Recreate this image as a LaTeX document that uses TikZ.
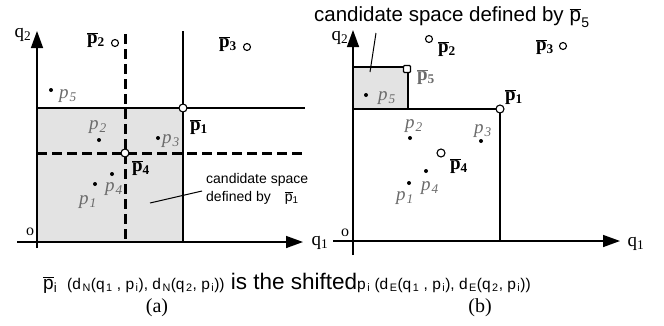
\documentclass[tikz,border=0pt]{standalone}
\usepackage{fontspec}
\setmainfont{Liberation Serif}
\setsansfont{Liberation Sans}
\usetikzlibrary{arrows.meta}
\definecolor{shadefill}{gray}{0.89}
\definecolor{lbl}{gray}{0.42}
\newcommand\pb[1]{\textbf{$\overline{\hbox{\textbf{p}}}$\textsubscript{#1}}}
\newcommand\pg[1]{\textcolor{lbl}{\textit{p}\kern1pt\textsubscript{\textit{#1}}}}
\newcommand\sbs[1]{\textsubscript{#1}}
\newcommand\ksb[1]{\kern1.5pt\textsubscript{#1}}
\begin{document}
\begin{tikzpicture}[x=1pt,y=-1pt,
  axisline/.style={line width=1.5pt,-{Triangle[length=17pt,width=12pt]}},
  edge/.style={line width=1.3pt},
  dashline/.style={line width=3pt,dash pattern=on 10pt off 5pt},
  hollow/.style={circle,draw,fill=white,line width=1.1pt,minimum size=8pt,inner sep=0pt},
  hollowsq/.style={rectangle,rounded corners=1pt,draw,fill=white,line width=1.1pt,minimum size=7pt,inner sep=0pt},
  dot/.style={circle,fill=black,minimum size=4pt,inner sep=0pt},
  lab/.style={font=\fontsize{19}{19}\selectfont,inner sep=0pt},
  sflab/.style={font=\sffamily\fontsize{14}{17}\selectfont,inner sep=0pt,align=left}]
\useasboundingbox (0,0) rectangle (664,325);

% ---------------- panel (a) ----------------
\fill[shadefill] (37,108) rectangle (183,242);
\draw[axisline] (17,242) -- (303,242);
\draw[axisline] (37,248) -- (37,31);
\draw[edge] (183,31) -- (183,242);
\draw[edge] (37,108) -- (305,108);
\draw[dashline] (37,153) -- (302,153);
\draw[dashline] (125,34) -- (125,242);

\node[lab] (qa1) at (320,243) {q\sbs{1}};
\node[lab] (qa2) at (23,35) {q\sbs{2}};
\node[lab,font=\fontsize{16}{16}\selectfont] (oa) at (30,232) {o};

\node[hollow] (a1) at (183,108) {};
\node[hollow] (a4) at (125,153) {};
\node[hollow,minimum size=7pt] (a2) at (115,43) {};
\node[hollow,minimum size=7pt] (a3) at (247,47) {};
\node[lab] (la1) at (199,127) {\pb{1}};
\node[lab] (la4) at (141,168) {\pb{4}};
\node[lab] (la2) at (96,40) {\pb{2}};
\node[lab] (la3) at (228,44) {\pb{3}};

\node[dot] (da5) at (51,90) {};
\node[dot] (da2) at (99,140) {};
\node[dot] (da3) at (158,138) {};
\node[dot] (da4) at (112,174) {};
\node[dot] (da1) at (95,184) {};
\node[lab] (pa5) at (68,96) {\pg{5}};
\node[lab] (pa2) at (98,127) {\pg{2}};
\node[lab] (pa3) at (171,141) {\pg{3}};
\node[lab] (pa4) at (114,189) {\pg{4}};
\node[lab] (pa1) at (88,202) {\pg{1}};

\node[sflab,anchor=west] (cand1) at (206,180) {candidate space};
\node[sflab,anchor=west] (cand2) at (206,198) {defined by\hspace{14pt}$\overline{\hbox{p}}$\sbs{1}};
\coordinate (ca0) at (150,203);
\coordinate (ca1) at (202,191);
\draw[line width=1pt] (ca0) -- (ca1);

% ---------------- panel (b) ----------------
\fill[shadefill] (353,67) rectangle (408,109);
\draw[line width=1.3pt] (353,67) rectangle (408,109);
\draw[axisline] (333,241) -- (620,241);
\draw[axisline] (353,255) -- (353,30);
\draw[edge] (353,109) -- (500,109) -- (500,241);

\node[lab] (qb1) at (636,244) {q\sbs{1}};
\node[lab] (qb2) at (340,38) {q\sbs{2}};
\node[lab,font=\fontsize{16}{16}\selectfont] (ob) at (345,233) {o};

\node[hollow] (b1) at (500,109) {};
\node[hollowsq] (b5) at (407,69) {};
\node[hollow,minimum size=7pt] (b2) at (429,39) {};
\node[hollow,minimum size=7pt] (b3) at (563,46) {};
\node[hollow] (b4) at (441,153) {};
\node[lab] (lb1) at (514,97) {\pb{1}};
\node[lab] (lb5) at (426,77) {\textcolor{lbl}{\pb{5}}};
\node[lab] (lb2) at (447,49) {\pb{2}};
\node[lab] (lb3) at (545,47) {\pb{3}};
\node[lab] (lb4) at (459,166) {\pb{4}};

\node[dot] (db5) at (366,95) {};
\node[dot] (db2) at (410,138) {};
\node[dot] (db3) at (481,141) {};
\node[dot] (db4) at (426,171) {};
\node[dot] (db1) at (409,183) {};
\node[lab] (pb5) at (387,98) {\pg{5}};
\node[lab] (pb2) at (414,126) {\pg{2}};
\node[lab] (pb3) at (483,131) {\pg{3}};
\node[lab] (pb4) at (430,188) {\pg{4}};
\node[lab] (pb1) at (405,198) {\pg{1}};

\node[inner sep=0pt,anchor=west,font=\sffamily\fontsize{20.5}{20.5}\selectfont] (candb) at (314,17)
  {candidate space defined by $\overline{\hbox{p}}$\kern0.5pt\raisebox{-6pt}{\fontsize{14}{14}\selectfont 5}};
\coordinate (cb0) at (370,72);
\coordinate (cb1) at (376,33);
\draw[line width=1pt] (cb0) -- (cb1);

% ---------------- caption ----------------
\node[inner sep=0pt,anchor=base west,font=\sffamily\fontsize{22.5}{22.5}\selectfont] (capt) at (43,289)
  {{\fontsize{19}{19}\selectfont$\overline{\hbox{p}}$\sbs{i}}\, {\fontsize{15.5}{15.5}\selectfont(d\ksb{N}(q\ksb{1} , p\ksb{i}), d\ksb{N}(q\ksb{2}, p\ksb{i}))} is the shifted{\fontsize{15.5}{15.5}\selectfont p\ksb{i} (d\ksb{E}(q\ksb{1} , p\ksb{i}), d\ksb{E}(q\ksb{2}, p\ksb{i}))}};
\node[inner sep=0pt,font=\fontsize{20}{20}\selectfont] (suba) at (157,308) {(a)};
\node[inner sep=0pt,font=\fontsize{20}{20}\selectfont] (subb) at (480,308) {(b)};
\end{tikzpicture}
\end{document}
